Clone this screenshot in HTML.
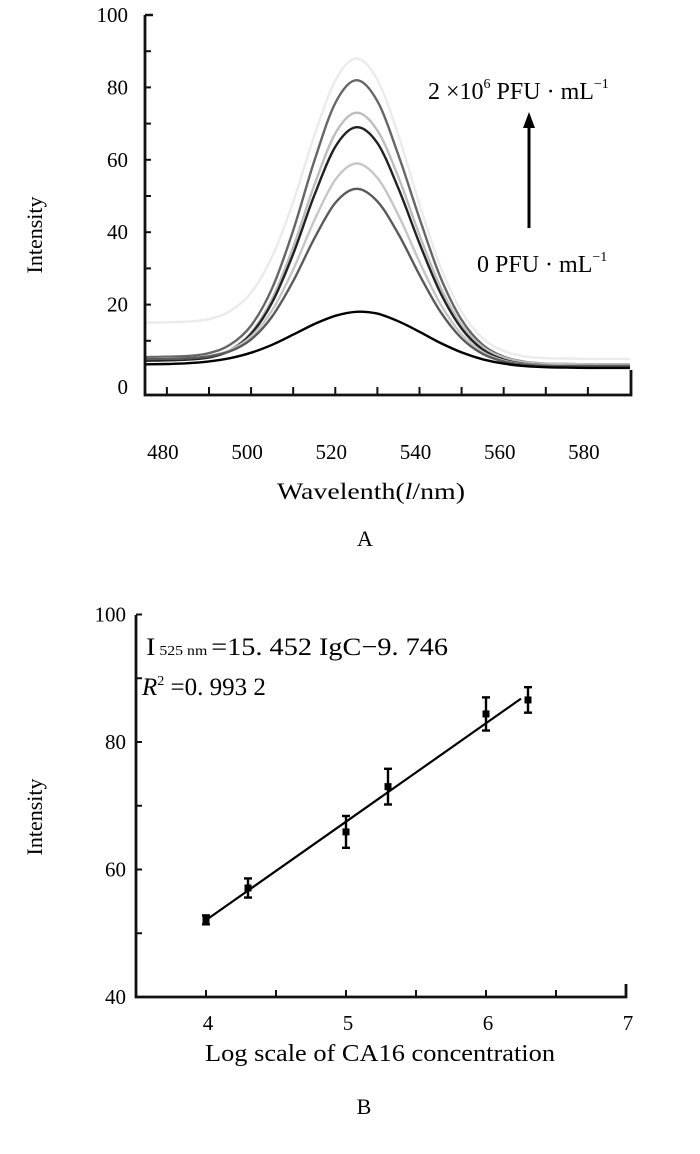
<!DOCTYPE html>
<html><head><meta charset="utf-8"><style>
body{margin:0;background:#fff;}
svg{display:block;font-family:"Liberation Serif",serif;}
</style></head><body>
<svg id="s" width="700" height="1154" viewBox="0 0 700 1154">
<g id="topchart"></g>
<g id="botchart"></g>
</svg>
<script>
// ---- Chart A data ----
const wavelengths=[475,480,485,490,495,500,505,510,515,520,525,530,535,540,545,550,555,560,565,570,575,580,585,590];
const curveBlack=[3.5,3.6,3.8,4.3,5.2,6.7,8.9,11.7,14.6,16.9,18,17.5,15.4,12.5,9.4,6.8,4.9,3.7,3.0,2.7,2.6,2.5,2.5,2.5];
const curve2=[5,5,5.2,5.7,7.1,10.4,16.7,26.5,38.2,48.1,52,48.5,39.5,28.2,18.0,10.7,6.4,4.3,3.4,3.1,3.0,3,3,3];
const curve3=[5,5.1,5.2,5.8,7.4,11.2,18.4,29.7,43.2,54.5,59,55.0,44.7,31.8,20.1,11.8,6.9,4.5,3.5,3.2,3.1,3,3,3];
const curve4=[4.5,4.6,4.8,5.4,7.3,11.9,20.6,34.0,50.1,63.6,69,64.6,52.1,36.9,23.2,13.4,7.6,4.8,3.6,3.2,3.1,3,3,3];
const curve5=[4.5,4.6,4.8,5.5,7.5,12.3,21.6,35.9,52.9,67.3,73,68.1,55.2,39.2,24.8,14.4,8.3,5.4,4.1,3.7,3.6,3.5,3.5,3.5];
const curve6=[5.5,5.6,5.8,6.6,8.9,14.2,24.5,40.5,59.6,75.7,82,76.2,61.3,43.8,27.5,15.8,8.9,5.6,4.2,3.7,3.6,3.5,3.5,3.5];
const curve7=[15,15.1,15.3,16,18.2,23.3,33.2,48.4,66.6,81.9,88,82.1,66.8,47.7,30.4,18.0,10.7,7.2,5.7,5.2,5.1,5,5,5];
const yTicksA=[0,20,40,60,80,100];
const xTickValsA=[480,500,520,540,560,580];
const xTickLabelsA=["480","500","520","540","560","580"];
// ---- Chart B data ----
const logConc=[4,4.3,5,5.3,6,6.3];
const intensity=[52.1,57.1,65.9,73,84.4,86.6];
const errBars=[0.7,1.5,2.5,2.8,2.6,2.0];
const slope=15.452, intercept=-9.746;
const yTicksB=[40,60,80,100];
const xTicksB=[4,5,6,7];

const NS="http://www.w3.org/2000/svg";
function mk(parent,tag,attrs,text){const e=document.createElementNS(NS,tag);for(const k in attrs)e.setAttribute(k,attrs[k]);if(text!==undefined)e.textContent=text;parent.appendChild(e);return e;}
const gTop=document.getElementById('topchart'), gBot=document.getElementById('botchart');

// Chart A
const xA=w=>145+(w-474.8)*4.21;
const yA=v=>377-v*3.62;
const curves=[[curve7,'#ebebeb'],[curve6,'#666'],[curve5,'#bdbdbd'],[curve4,'#222'],[curve3,'#c6c6c6'],[curve2,'#5a5a5a'],[curveBlack,'#000']];
curves.forEach(([c,col],i)=>{
  const pts=c.map((v,j)=>[Math.min(xA(wavelengths[j]),631),yA(v)]);
  let d='M'+pts[0][0].toFixed(1)+' '+pts[0][1].toFixed(1);
  for(let j=0;j<pts.length-1;j++){const p0=pts[Math.max(j-1,0)],p1=pts[j],p2=pts[j+1],p3=pts[Math.min(j+2,pts.length-1)];
    const c1x=p1[0]+(p2[0]-p0[0])/6,c1y=p1[1]+(p2[1]-p0[1])/6,c2x=p2[0]-(p3[0]-p1[0])/6,c2y=p2[1]-(p3[1]-p1[1])/6;
    d+=` C${c1x.toFixed(1)} ${c1y.toFixed(1)} ${c2x.toFixed(1)} ${c2y.toFixed(1)} ${p2[0].toFixed(1)} ${p2[1].toFixed(1)}`;}
  const p=mk(gTop,'path',{d,fill:'none',stroke:col,'stroke-width':2.4,'stroke-linejoin':'round'});
  
  });
mk(gTop,'path',{d:`M145 15 L145 395 L631 395 L631 370`,fill:'none',stroke:'#111','stroke-width':2.8,});
for(let v=10;v<=90;v+=10){mk(gTop,'line',{x1:145,x2:151,y1:yA(v),y2:yA(v),stroke:'#111','stroke-width':2});}
mk(gTop,'line',{x1:145,x2:153,y1:15,y2:15,stroke:'#111','stroke-width':2.5});
for(let w=480;w<=580;w+=10){mk(gTop,'line',{x1:xA(w),x2:xA(w),y1:395,y2:387,stroke:'#111','stroke-width':2});}
yTicksA.forEach(v=>{const t=mk(gTop,'text',{x:128,y:yA(v)+(v===0?17:7),'text-anchor':'end','font-size':21},String(v));

});
xTickLabelsA.forEach((s,i)=>{const t=mk(gTop,'text',{x:xA(xTickValsA[i])-4,y:459,'text-anchor':'middle','font-size':21},s);

});
mk(gTop,'text',{x:42,y:235,transform:'rotate(-90 42 235)','text-anchor':'middle','font-size':22,},'Intensity');
mk(gTop,'text',{x:371,y:499,'text-anchor':'middle','font-size':23,textLength:188,lengthAdjust:'spacingAndGlyphs',}).innerHTML='Wavelenth(<tspan font-style="italic">l</tspan>/nm)';
mk(gTop,'text',{x:365,y:546,'text-anchor':'middle','font-size':22,},'A');
mk(gTop,'text',{x:428,y:99,'font-size':24,}).innerHTML='2 ×10<tspan font-size="14" dy="-11">6</tspan><tspan dy="11"> PFU · mL</tspan><tspan font-size="14" dy="-11">−1</tspan>';
mk(gTop,'text',{x:477,y:272,'font-size':24,}).innerHTML='0  PFU · mL<tspan font-size="14" dy="-11">−1</tspan>';
mk(gTop,'line',{x1:529,y1:228,x2:529,y2:125,stroke:'#000','stroke-width':3,});
mk(gTop,'path',{d:'M523 128 L529 112 L535 128 Z',fill:'#000'});

// Chart B
const xB=v=>136+(v-3.5)*140;
const yB=v=>997-(v-40)*6.375;
mk(gBot,'path',{d:`M136 615 L136 997 L626 997 L626 984`,fill:'none',stroke:'#111','stroke-width':2.8,});
for(let v=50;v<=100;v+=10){mk(gBot,'line',{x1:136,x2:142,y1:yB(v),y2:yB(v),stroke:'#111','stroke-width':2});}
for(let v=4;v<=7;v+=0.5){mk(gBot,'line',{x1:xB(v),x2:xB(v),y1:997,y2:990,stroke:'#111','stroke-width':2});}
yTicksB.forEach(v=>{const t=mk(gBot,'text',{x:126,y:yB(v)+7,'text-anchor':'end','font-size':21},String(v));

});
xTicksB.forEach(v=>{const t=mk(gBot,'text',{x:xB(v)+2,y:1030,'text-anchor':'middle','font-size':21},String(v));

});
const fit=mk(gBot,'line',{x1:xB(4),y1:yB(slope*4+intercept),x2:xB(6.25),y2:yB(86.8),stroke:'#000','stroke-width':2.2});


logConc.forEach((x,i)=>{const cx=xB(x),cy=yB(intensity[i]),e=errBars[i]*6.375;
const g=mk(gBot,'g',{});


mk(g,'line',{x1:cx,x2:cx,y1:cy-e,y2:cy+e,stroke:'#000','stroke-width':2.4});
mk(g,'line',{x1:cx-4,x2:cx+4,y1:cy-e,y2:cy-e,stroke:'#000','stroke-width':2.4});
mk(g,'line',{x1:cx-4,x2:cx+4,y1:cy+e,y2:cy+e,stroke:'#000','stroke-width':2.4});
mk(g,'rect',{x:cx-3.5,y:cy-3.5,width:7,height:7,fill:'#000'});});
mk(gBot,'text',{x:42,y:817,transform:'rotate(-90 42 817)','text-anchor':'middle','font-size':22,},'Intensity');
mk(gBot,'text',{x:380,y:1061,'text-anchor':'middle','font-size':24,textLength:350,lengthAdjust:'spacingAndGlyphs',},'Log scale of CA16 concentration');
mk(gBot,'text',{x:364,y:1114,'text-anchor':'middle','font-size':22,},'B');
mk(gBot,'text',{x:146,y:655,'font-size':25,textLength:302,lengthAdjust:'spacingAndGlyphs',}).innerHTML='I<tspan font-size="14"> 525 nm </tspan>=15. 452  IgC−9. 746';
mk(gBot,'text',{x:142,y:695,'font-size':25,}).innerHTML='<tspan font-style="italic">R</tspan><tspan font-size="14" dy="-10">2</tspan><tspan dy="10"> =0. 993 2</tspan>';
</script>
</body></html>
